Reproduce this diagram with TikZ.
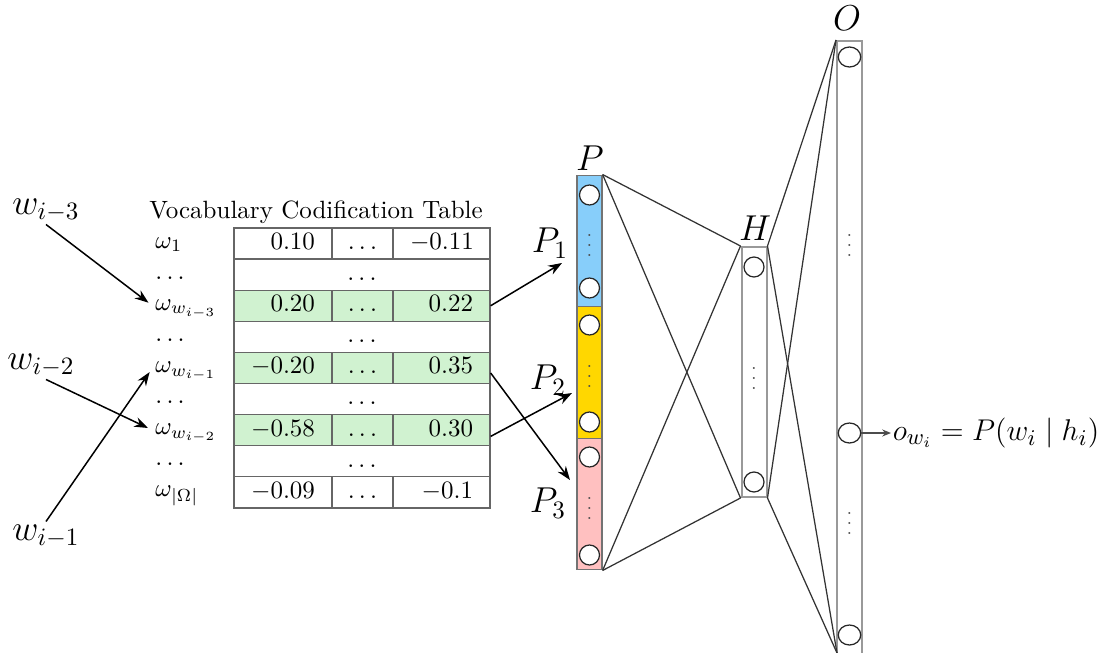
\documentclass[tikz,border=0pt]{standalone}
\usepackage{amsmath}
\usetikzlibrary{arrows.meta,shapes.geometric}
\definecolor{rowgreen}{RGB}{208,242,208}
\definecolor{pblue}{RGB}{135,206,250}
\definecolor{pyellow}{RGB}{255,215,0}
\definecolor{ppink}{RGB}{255,192,192}
\begin{document}
\begin{tikzpicture}[x=0.4pt,y=-0.4pt,
  cell/.style={draw=black!60, line width=0.5pt, minimum height=12.44pt, inner sep=0pt, text height=6.6pt, text depth=1.9pt},
  ncellA/.style={cell, inner xsep=6.8pt, text width=25.6pt, align=right},
  ncellC/.style={cell, inner xsep=6.8pt, text width=25.2pt, align=right},
  mcell/.style={cell, minimum width=24.4pt},
  fcell/.style={cell, minimum width=102.4pt},
  green/.style={fill=rowgreen},
  rlab/.style={anchor=west, inner sep=1pt, text height=6pt, text depth=2.4pt},
  big/.style={font=\fontsize{14.5}{17}\selectfont, inner sep=1pt},
  pcol/.style={draw=black!55, line width=0.5pt, minimum width=10pt, minimum height=52.67pt, inner sep=0pt},
  hcol/.style={draw=black!40, line width=0.8pt, minimum width=10pt, inner sep=0pt},
  neuron/.style={circle, draw=black!85, fill=white, line width=0.5pt, minimum size=8pt, inner sep=0pt},
  oneuron/.style={ellipse, draw=black!85, fill=white, line width=0.5pt, minimum width=9pt, minimum height=8pt, inner sep=0pt},
  vdot/.style={inner sep=0pt, font=\scriptsize, text=black!70},
  conn/.style={draw=black!80, line width=0.5pt},
  arr/.style={draw=black, line width=0.6pt, -{Stealth[length=5.5pt,width=4pt]}}
]
\useasboundingbox (0,0) rectangle (1116,653);
\clip (0,0) rectangle (1116,653);

% title
\node (title) at (316,212) {Vocabulary Codification Table};

% table rows
\node[ncellA] (c0a) at (283,243.55) {$0.10$};
\node[mcell] (c0b) at (362.5,243.55) {$\ldots$};
\node[ncellC] (c0c) at (441.5,243.55) {$-0.11$};
\node[fcell] (c1) at (362,274.65) {$\ldots$};
\node[ncellA,green] (c2a) at (283,305.75) {$0.20$};
\node[mcell,green] (c2b) at (362.5,305.75) {$\ldots$};
\node[ncellC,green] (c2c) at (441.5,305.75) {$0.22$};
\node[fcell] (c3) at (362,336.85) {$\ldots$};
\node[ncellA,green] (c4a) at (283,367.95) {$-0.20$};
\node[mcell,green] (c4b) at (362.5,367.95) {$\ldots$};
\node[ncellC,green] (c4c) at (441.5,367.95) {$0.35$};
\node[fcell] (c5) at (362,399.05) {$\ldots$};
\node[ncellA,green] (c6a) at (283,430.15) {$-0.58$};
\node[mcell,green] (c6b) at (362.5,430.15) {$\ldots$};
\node[ncellC,green] (c6c) at (441.5,430.15) {$0.30$};
\node[fcell] (c7) at (362,461.25) {$\ldots$};
\node[ncellA] (c8a) at (283,492.35) {$-0.09$};
\node[mcell] (c8b) at (362.5,492.35) {$\ldots$};
\node[ncellC] (c8c) at (441.5,492.35) {$-0.1$};

% row labels
\node[rlab] (r0) at (152.5,243.55) {$\omega_1$};
\node[rlab] (r1) at (152.5,274.65) {$\ldots$};
\node[rlab] (r2) at (152.5,305.75) {$\omega_{w_{i-3}}$};
\node[rlab] (r3) at (152.5,336.85) {$\ldots$};
\node[rlab] (r4) at (152.5,367.95) {$\omega_{w_{i-1}}$};
\node[rlab] (r5) at (152.5,399.05) {$\ldots$};
\node[rlab] (r6) at (152.5,430.15) {$\omega_{w_{i-2}}$};
\node[rlab] (r7) at (152.5,461.25) {$\ldots$};
\node[rlab] (r8) at (152.5,492.35) {$\omega_{|\Omega|}$};

% input words
\node[big] (w3) at (46,210) {$w_{i-3}$};
\node[big] (w2) at (41,365) {$w_{i-2}$};
\node[big] (w1) at (46,536) {$w_{i-1}$};
\draw[arr, shorten >=2pt] (w3.south) -- (r2.west);
\draw[arr, shorten >=2pt] ([xshift=2pt]w2.south) -- (r6.west);
\draw[arr, shorten >=2pt] (w1.north) -- (r4.west);

% projection layer
\node[pcol, fill=pblue] (P1) at (589.5,241) {};
\node[pcol, fill=pyellow] (P2) at (589.5,372.5) {};
\node[pcol, fill=ppink] (P3) at (589.5,504) {};
\node[big] (Plab) at (590,158) {$P$};
\node[big] (P1lab) at (550,243) {$P_1$};
\node[big] (P2lab) at (548,380) {$P_2$};
\node[big] (P3lab) at (548,503) {$P_3$};

% hidden layer
\node[hcol, minimum height=100pt] (H) at (754,372) {};
\node[big] (Hlab) at (755,228) {$H$};

% output layer
\node[hcol, minimum height=255.2pt] (O) at (849.5,360) {};
\node[big] (Olab) at (847,18) {$O$};
\coordinate (Obot) at (837,653);

% connections
\draw[conn] (P1.north east) -- (H.north west);
\draw[conn] (P1.north east) -- (H.south west);
\draw[conn] (P3.south east) -- (H.north west);
\draw[conn] (P3.south east) -- (H.south west);
\draw[conn] (H.north east) -- (O.north west);
\draw[conn] (H.north east) -- (Obot);
\draw[conn] (H.south east) -- (O.north west);
\draw[conn] (H.south east) -- (Obot);

% neurons
\node[neuron] (p1a) at (589.5,195) {};
\node[vdot] (p1d) at (589.5,238) {$\vdots$};
\node[neuron] (p1b) at (589.5,288) {};
\node[neuron] (p2a) at (589.5,325) {};
\node[vdot] (p2d) at (589.5,369) {$\vdots$};
\node[neuron] (p2b) at (589.5,422) {};
\node[neuron] (p3a) at (589.5,457) {};
\node[vdot] (p3d) at (589.5,501) {$\vdots$};
\node[neuron] (p3b) at (589.5,555) {};
\node[neuron] (h1) at (754,267) {};
\node[vdot] (hd) at (754,371) {$\vdots$};
\node[neuron] (h2) at (754,482) {};
\node[oneuron] (o1) at (849.5,57) {};
\node[vdot] (od1) at (849.5,238) {$\vdots$};
\node[oneuron] (o2) at (849.5,433) {};
\node[vdot] (od2) at (849.5,516) {$\vdots$};
\node[oneuron] (o3) at (849.5,635) {};

% table to projection arrows
\coordinate (a1) at (562,263);
\coordinate (a2) at (570,480);
\coordinate (a3) at (572,393);
\draw[arr] (c2c.east) -- (a1);
\draw[arr] ([yshift=-2pt]c4c.east) -- (a2);
\draw[arr] ([yshift=-2.5pt]c6c.east) -- (a3);

% output
\node[anchor=west, inner sep=0.5pt, font=\fontsize{12.8}{15}\selectfont] (out) at (891,433) {$o_{w_i} = P(w_i\;|\;h_i)$};
\draw[draw=black!70, line width=0.5pt, -{Stealth[length=3.5pt,width=2.8pt]}] (o2.east) -- (out.west);
\end{tikzpicture}
\end{document}
